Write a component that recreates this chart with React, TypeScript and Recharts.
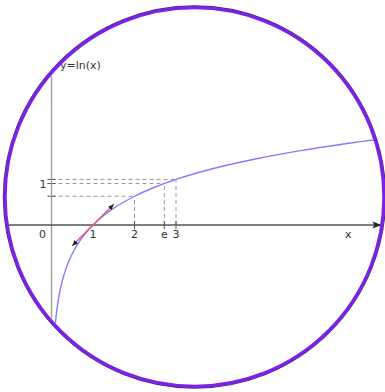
import React from "react";
import {
  ComposedChart,
  Customized,
  Line,
  ReferenceDot,
  ReferenceLine,
  XAxis,
  YAxis,
} from "recharts";

// y = ln(x), sampled along the visible part of the curve
const curveX = [0.08, 0.1, 0.13, 0.17, 0.22, 0.3, 0.4, 0.5, 0.65, 0.8, 1, 1.25, 1.5, 2, 2.5, 3, 3.5, 4, 5, 6, 7, 8, 8.5];
const curveY = [-2.526, -2.303, -2.04, -1.772, -1.514, -1.204, -0.916, -0.693, -0.431, -0.223, 0, 0.223, 0.405, 0.693, 0.916, 1.099, 1.253, 1.386, 1.609, 1.792, 1.946, 2.079, 2.14];

// tangent at x = 1 (slope 1)
const tangentX = [0.5, 1.5];
const tangentY = [-0.5, 0.5];

// marked points on the curve
const markX = [2, 2.718, 3];
const markY = [0.693, 1, 1.099];
const markLabels = ["2", "e", "3"];

const unitTick = 1;
const curveTitle = "y=ln(x)";
const xName = "x";

const W = 385;
const H = 392;
const X_DOMAIN = [-1.241, 8.036];
const Y_DOMAIN = [-4.024, 5.422];

const curveData = curveX.map((x, i) => ({ x, y: curveY[i] }));
const tangentData = tangentX.map((x, i) => ({ x, t: tangentY[i] }));

// round frame
const CX = 194.5;
const CY = 197;
const R = 189.5;

const textStyle = {
  fontFamily: "DejaVu Sans, sans-serif",
  fontSize: 11,
  fill: "#333",
};

// everything inside the frame gets cut at the ring
const clipCss = `
.recharts-line, .recharts-reference-line, .recharts-reference-dot {
  clip-path: url(#roundClip);
}
`;

const labelAt =
  (text: string, dx: number, dy: number, anchor = "middle") =>
  ({ viewBox }: any) => {
    if (!viewBox) return null;
    return (
      <text
        x={viewBox.x + viewBox.width / 2 + dx}
        y={viewBox.y + viewBox.height / 2 + dy}
        textAnchor={anchor}
        dominantBaseline="central"
        style={textStyle}
      >
        {text}
      </text>
    );
  };

const Defs = () => (
  <defs>
    <clipPath id="roundClip" clipPathUnits="userSpaceOnUse">
      <circle cx={CX} cy={CY} r={R - 1.5} />
    </clipPath>
    <marker
      id="axisArrow"
      markerWidth="10"
      markerHeight="8"
      refX="9"
      refY="4"
      orient="auto"
      markerUnits="userSpaceOnUse"
    >
      <path d="M0,0.5 L9,4 L0,7.5 L2,4 Z" fill="#222" />
    </marker>
    <marker
      id="tanArrow"
      markerWidth="7"
      markerHeight="6"
      refX="6"
      refY="3"
      orient="auto-start-reverse"
      markerUnits="userSpaceOnUse"
    >
      <path d="M0,0.5 L6,3 L0,5.5 Z" fill="#222" />
    </marker>
  </defs>
);

const Frame = () => (
  <g>
    <circle cx={CX} cy={CY} r={R + 1.6} fill="none" stroke="#3b2f55" strokeWidth={1.2} />
    <circle cx={CX} cy={CY} r={R} fill="none" stroke="#7b22e6" strokeWidth={3.4} />
  </g>
);

export default function App() {
  return (
    <div style={{ position: "absolute", left: 0, top: 0, background: "#fff" }}>
      <style>{clipCss}</style>
      <ComposedChart
        width={W}
        height={H}
        data={curveData}
        margin={{ top: 0, right: 0, bottom: 0, left: 0 }}
      >
        <Customized component={Defs} />
        <XAxis dataKey="x" type="number" domain={X_DOMAIN} allowDataOverflow hide />
        <YAxis type="number" domain={Y_DOMAIN} allowDataOverflow hide />

        {/* dashed guides to the marked points */}
        {markX.map((mx, i) => (
          <ReferenceLine
            key={`h${i}`}
            segment={[
              { x: 0, y: markY[i] },
              { x: mx, y: markY[i] },
            ]}
            stroke="#9a9a9a"
            strokeDasharray="4 3"
            ifOverflow="visible"
          />
        ))}
        {markX.map((mx, i) => (
          <ReferenceLine
            key={`v${i}`}
            segment={[
              { x: mx, y: 0 },
              { x: mx, y: markY[i] },
            ]}
            stroke="#9a9a9a"
            strokeDasharray="4 3"
            ifOverflow="visible"
          />
        ))}

        {/* short ticks on both axes */}
        {markY.map((my, i) => (
          <ReferenceLine
            key={`yt${i}`}
            segment={[
              { x: -0.1, y: my },
              { x: 0.1, y: my },
            ]}
            stroke="#555"
            ifOverflow="visible"
          />
        ))}
        {markX.map((mx, i) => (
          <ReferenceLine
            key={`xt${i}`}
            segment={[
              { x: mx, y: -0.1 },
              { x: mx, y: 0.1 },
            ]}
            stroke="#555"
            ifOverflow="visible"
          />
        ))}

        {/* axes */}
        <ReferenceLine
          segment={[
            { x: 0, y: 3.59 },
            { x: 0, y: -4.1 },
          ]}
          stroke="#a0a0a0"
          strokeWidth={1.4}
          ifOverflow="visible"
        />
        <ReferenceLine
          segment={[
            { x: -1.3, y: 0 },
            { x: 7.95, y: 0 },
          ]}
          stroke="#555"
          strokeWidth={1.4}
          markerEnd="url(#axisArrow)"
          ifOverflow="visible"
        />

        <Line
          dataKey="y"
          type="monotone"
          stroke="#7f7fff"
          strokeWidth={1.4}
          dot={false}
          activeDot={false}
          isAnimationActive={false}
        />
        <Line
          data={tangentData}
          dataKey="t"
          type="linear"
          stroke="#e4575f"
          strokeWidth={1.3}
          dot={false}
          activeDot={false}
          markerStart="url(#tanArrow)"
          markerEnd="url(#tanArrow)"
          isAnimationActive={false}
        />

        {/* labels */}
        <ReferenceDot x={0} y={0} r={1} fill="none" stroke="none" label={{ content: labelAt("0", -9, 9) } as any} />
        <ReferenceDot x={unitTick} y={0} r={1} fill="none" stroke="none" label={{ content: labelAt("1", 0, 9) } as any} />
        {markX.map((mx, i) => (
          <ReferenceDot
            key={`l${i}`}
            x={mx}
            y={0}
            r={1}
            fill="none"
            stroke="none"
            label={{ content: labelAt(markLabels[i], 0, 9) } as any}
          />
        ))}
        <ReferenceDot x={0} y={unitTick} r={1} fill="none" stroke="none" label={{ content: labelAt("1", -8.5, 1) } as any} />
        <ReferenceDot x={7.15} y={0} r={1} fill="none" stroke="none" label={{ content: labelAt(xName, 0, 9) } as any} />
        <ReferenceDot x={0} y={3.8} r={1} fill="none" stroke="none" label={{ content: labelAt(curveTitle, 8.5, -2, "start") } as any} />

        <Customized component={Frame} />
      </ComposedChart>
    </div>
  );
}
